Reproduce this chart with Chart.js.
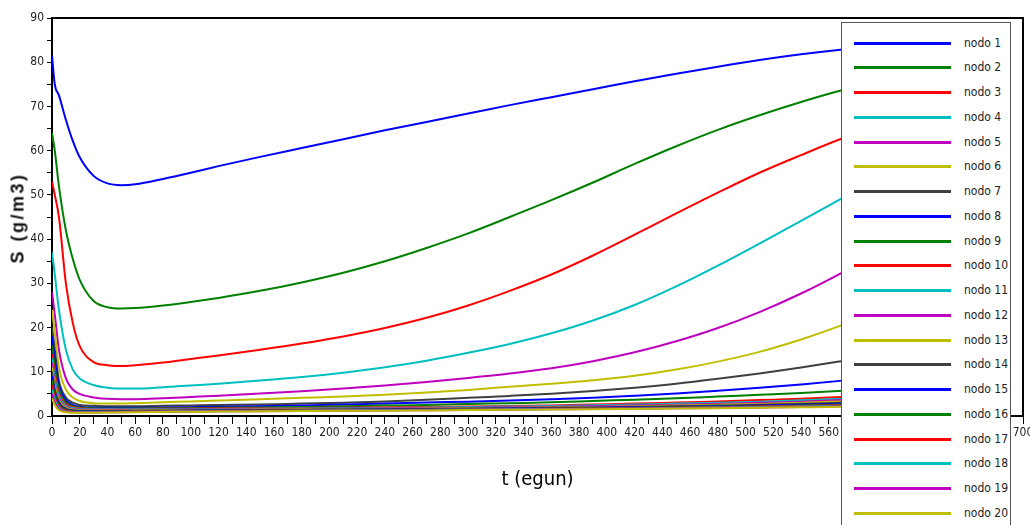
<!DOCTYPE html>
<html>
<head>
<meta charset="utf-8">
<script src="https://cdn.jsdelivr.net/npm/chart.js@4"></script>
<style>
  html, body { margin: 0; padding: 0; background: #fff; overflow: hidden; }
  #wrap { position: relative; width: 1030px; height: 525px; overflow: hidden; }
  #ytitle {
    position: absolute; left: 18px; top: 218px; white-space: nowrap;
    transform: translate(-50%, -50%) rotate(-90deg);
    font-family: 'Liberation Sans', Arial, sans-serif; font-weight: bold;
    font-size: 18px; letter-spacing: 2.5px; color: #111;
  }
  #legend {
    position: absolute; left: 841px; top: 22px; width: 170px; height: 520px;
    background: #fff; border: 1px solid #555; box-sizing: border-box;
    font-family: 'Liberation Sans Narrow', 'DejaVu Sans Condensed', sans-serif;
    font-size: 12px; color: #222;
  }
  .item { position: absolute; left: 0; width: 100%; height: 20px; }
  .item .swatch { position: absolute; left: 12px; top: 9px; width: 97px; height: 3px; }
  .item .lbl { position: absolute; left: 122px; top: 3px; line-height: 14px; }
</style>
</head>
<body>
<div id="wrap">
  <canvas id="chart" width="1030" height="525"></canvas>
  <div id="ytitle">S (g/m3)</div>
  <div id="legend"></div>
</div>
<script>
// time steps (egun)
const time = [0, 2, 5, 10, 15, 20, 30, 40, 50, 60, 80, 100, 120, 150, 180, 210, 240, 270, 300, 330, 360, 390, 420, 450, 480, 510, 540, 570, 600, 640, 680];

// substrate concentration per node (g/m3)
const nodo1 = [81.5, 75, 72.5, 67, 62.2, 58.5, 54.3, 52.6, 52.2, 52.4, 53.6, 55, 56.5, 58.6, 60.6, 62.6, 64.6, 66.5, 68.4, 70.3, 72.1, 73.9, 75.7, 77.4, 79, 80.5, 81.8, 82.9, 83.8, 84.8, 85.5];
const nodo2 = [64, 60, 52, 42, 35.5, 30.8, 26, 24.6, 24.3, 24.4, 25, 25.8, 26.7, 28.3, 30.2, 32.4, 35, 38, 41.3, 45, 48.8, 52.8, 57, 61, 64.7, 68, 71, 73.7, 76, 78.4, 80.2];
const nodo3 = [53, 50, 45, 30, 21, 15.8, 12.2, 11.5, 11.3, 11.5, 12.1, 12.9, 13.7, 15, 16.4, 18, 19.9, 22.2, 25, 28.3, 32, 36.3, 41, 45.8, 50.5, 55, 59, 62.8, 66, 69.6, 72.6];
const nodo4 = [37, 32, 24, 15, 10.5, 8.5, 7, 6.4, 6.2, 6.2, 6.5, 6.9, 7.3, 8, 8.8, 9.8, 11, 12.5, 14.3, 16.3, 18.7, 21.6, 25.1, 29.3, 34, 39, 44.1, 49.3, 54.5, 61, 67];
const nodo5 = [28, 23, 15, 8.5, 6, 5, 4.2, 3.9, 3.8, 3.8, 4, 4.3, 4.6, 5.1, 5.6, 6.2, 6.9, 7.7, 8.6, 9.6, 10.8, 12.4, 14.4, 16.9, 19.9, 23.5, 27.7, 32.5, 37.8, 45.5, 53];
const nodo6 = [24, 19, 11, 6, 4.2, 3.4, 2.9, 2.8, 2.8, 2.9, 3.1, 3.3, 3.5, 3.8, 4.1, 4.4, 4.8, 5.3, 5.9, 6.6, 7.3, 8.1, 9.1, 10.5, 12.3, 14.5, 17.3, 20.6, 24.3, 29.8, 36];
const nodo7 = [20, 15, 8, 4.2, 3, 2.5, 2.3, 2.2, 2.2, 2.2, 2.3, 2.4, 2.5, 2.6, 2.8, 3, 3.3, 3.65, 4.1, 4.55, 5.05, 5.65, 6.4, 7.3, 8.4, 9.6, 10.95, 12.45, 14, 16.3, 18.8];
const nodo8 = [18, 13, 7, 3.6, 2.5, 2.1, 1.9, 1.85, 1.85, 1.85, 1.9, 2, 2.1, 2.2, 2.4, 2.6, 2.8, 3.05, 3.25, 3.5, 3.8, 4.15, 4.6, 5.1, 5.7, 6.4, 7.15, 8, 8.9, 10.2, 11.6];
const nodo9 = [16, 11, 6, 3.1, 2.2, 1.9, 1.75, 1.7, 1.7, 1.7, 1.75, 1.8, 1.85, 1.95, 2.05, 2.2, 2.35, 2.5, 2.7, 2.9, 3.1, 3.4, 3.7, 4, 4.4, 4.8, 5.2, 5.7, 6.2, 6.9, 7.6];
const nodo10 = [14, 9.5, 5, 2.7, 2, 1.75, 1.6, 1.6, 1.6, 1.6, 1.62, 1.65, 1.7, 1.75, 1.8, 1.88, 1.95, 2.05, 2.15, 2.27, 2.4, 2.6, 2.8, 3.05, 3.3, 3.6, 3.9, 4.3, 4.7, 5.3, 5.8];
const nodo11 = [13, 8.5, 4.5, 2.4, 1.8, 1.6, 1.5, 1.5, 1.5, 1.5, 1.52, 1.55, 1.6, 1.65, 1.7, 1.76, 1.83, 1.92, 2.02, 2.13, 2.25, 2.42, 2.6, 2.8, 3, 3.25, 3.55, 3.9, 4.2, 4.7, 5.2];
const nodo12 = [12, 7.5, 4, 2.1, 1.6, 1.45, 1.4, 1.4, 1.4, 1.4, 1.42, 1.45, 1.5, 1.55, 1.6, 1.66, 1.73, 1.8, 1.88, 1.97, 2.08, 2.22, 2.38, 2.55, 2.75, 2.97, 3.25, 3.6, 3.9, 4.3, 4.8];
const nodo13 = [11, 6.8, 3.6, 1.9, 1.45, 1.3, 1.25, 1.25, 1.25, 1.28, 1.32, 1.36, 1.4, 1.45, 1.5, 1.56, 1.62, 1.69, 1.76, 1.84, 1.94, 2.06, 2.2, 2.36, 2.54, 2.74, 3, 3.3, 3.6, 4, 4.4];
const nodo14 = [10, 6, 3.2, 1.7, 1.3, 1.18, 1.15, 1.15, 1.17, 1.2, 1.24, 1.28, 1.32, 1.37, 1.42, 1.48, 1.54, 1.6, 1.67, 1.75, 1.84, 1.95, 2.07, 2.2, 2.35, 2.52, 2.75, 3, 3.3, 3.6, 4];
const nodo15 = [9, 5.4, 2.8, 1.5, 1.18, 1.08, 1.05, 1.06, 1.08, 1.11, 1.15, 1.2, 1.25, 1.3, 1.35, 1.41, 1.47, 1.53, 1.6, 1.67, 1.75, 1.85, 1.96, 2.08, 2.2, 2.35, 2.55, 2.8, 3.05, 3.4, 3.7];
const nodo16 = [8, 4.8, 2.5, 1.35, 1.08, 1, 0.98, 1, 1.02, 1.05, 1.1, 1.15, 1.2, 1.25, 1.3, 1.35, 1.41, 1.47, 1.53, 1.6, 1.68, 1.77, 1.87, 1.98, 2.1, 2.23, 2.4, 2.6, 2.85, 3.1, 3.4];
const nodo17 = [7, 4.2, 2.2, 1.2, 0.98, 0.93, 0.92, 0.94, 0.97, 1, 1.05, 1.1, 1.15, 1.2, 1.25, 1.3, 1.36, 1.42, 1.48, 1.55, 1.62, 1.7, 1.79, 1.89, 2, 2.12, 2.27, 2.45, 2.65, 2.9, 3.2];
const nodo18 = [6, 3.6, 1.9, 1.05, 0.9, 0.86, 0.86, 0.88, 0.92, 0.95, 1, 1.05, 1.1, 1.15, 1.2, 1.25, 1.31, 1.37, 1.43, 1.5, 1.57, 1.64, 1.72, 1.81, 1.91, 2.02, 2.16, 2.32, 2.5, 2.7, 3];
const nodo19 = [5, 3, 1.6, 0.95, 0.83, 0.8, 0.8, 0.83, 0.87, 0.9, 0.95, 1, 1.05, 1.1, 1.15, 1.2, 1.26, 1.32, 1.38, 1.44, 1.51, 1.58, 1.66, 1.74, 1.83, 1.93, 2.05, 2.2, 2.36, 2.6, 2.8];
const nodo20 = [4, 2.5, 1.3, 0.85, 0.75, 0.73, 0.75, 0.78, 0.82, 0.86, 0.91, 0.96, 1.01, 1.06, 1.11, 1.16, 1.21, 1.27, 1.33, 1.39, 1.45, 1.52, 1.6, 1.68, 1.77, 1.87, 1.98, 2.1, 2.25, 2.45, 2.7];

const series = [nodo1, nodo2, nodo3, nodo4, nodo5, nodo6, nodo7, nodo8, nodo9, nodo10,
                nodo11, nodo12, nodo13, nodo14, nodo15, nodo16, nodo17, nodo18, nodo19, nodo20];
const labels = series.map((s, i) => 'nodo ' + (i + 1));

// colour cycle, repeats every 7 nodes
const palette = ['#0000ff', '#008000', '#ff0000', '#00bfbf', '#bf00bf', '#bfbf00', '#404040'];

const narrow = "'Liberation Sans Narrow', 'DejaVu Sans Condensed', sans-serif";

const datasets = series.map((vals, i) => ({
    label: labels[i],
    data: vals.map((v, j) => ({ x: time[j], y: v })),
    borderColor: palette[i % palette.length],
    backgroundColor: palette[i % palette.length],
    borderWidth: 2,
    pointRadius: 0,
    fill: false,
    cubicInterpolationMode: 'monotone',
    order: series.length - i
}));

// black box on top and right of the plot
const frame = {
    id: 'frame',
    afterDraw(chart) {
        const { ctx, chartArea: a } = chart;
        ctx.save();
        ctx.strokeStyle = '#000';
        ctx.lineWidth = 2;
        ctx.beginPath();
        ctx.moveTo(a.left, a.top);
        ctx.lineTo(a.right, a.top);
        ctx.lineTo(a.right, a.bottom);
        ctx.stroke();
        ctx.restore();
    }
};

const chart = new Chart(document.getElementById('chart'), {
    type: 'line',
    data: { datasets: datasets },
    plugins: [frame],
    options: {
        responsive: false,
        animation: false,
        layout: { padding: { top: 18, right: 7, left: 0, bottom: 0 } },
        plugins: {
            legend: { display: false },
            tooltip: { enabled: false }
        },
        scales: {
            x: {
                type: 'linear',
                min: 0,
                max: 700,
                border: { color: '#000', width: 2 },
                grid: { drawOnChartArea: false, color: '#000', tickLength: 8, tickWidth: 1 },
                ticks: {
                    stepSize: 10,
                    autoSkip: false,
                    maxRotation: 0,
                    padding: 2,
                    color: '#222',
                    font: { family: narrow, size: 12 },
                    callback: v => (v % 20 === 0 ? String(v) : '')
                },
                title: {
                    display: true,
                    text: 't (egun)',
                    color: '#000',
                    font: { family: narrow, size: 20 },
                    padding: { top: 0, bottom: 33 }
                },
                afterFit(scale) {
                    scale.height = 109;
                    scale.paddingLeft = 0;
                    scale.paddingRight = 0;
                }
            },
            y: {
                min: 0,
                max: 90,
                border: { color: '#000', width: 2 },
                grid: { drawOnChartArea: false, color: '#000', tickLength: 5, tickWidth: 1 },
                ticks: {
                    stepSize: 5,
                    autoSkip: false,
                    padding: 3,
                    color: '#222',
                    font: { family: narrow, size: 12 },
                    callback: v => (v % 10 === 0 ? String(v) : '')
                },
                afterFit(scale) {
                    scale.width = 52;
                    scale.paddingTop = 0;
                    scale.paddingBottom = 0;
                }
            }
        }
    }
});

// legend box drawn over the right part of the plot
const legend = document.getElementById('legend');
chart.data.datasets.forEach((ds, i) => {
    const row = document.createElement('div');
    row.className = 'item';
    row.style.top = (9.7 + i * 24.74) + 'px';
    const sw = document.createElement('span');
    sw.className = 'swatch';
    sw.style.background = ds.borderColor;
    const lbl = document.createElement('span');
    lbl.className = 'lbl';
    lbl.textContent = ds.label;
    row.appendChild(sw);
    row.appendChild(lbl);
    legend.appendChild(row);
});
</script>
</body>
</html>
